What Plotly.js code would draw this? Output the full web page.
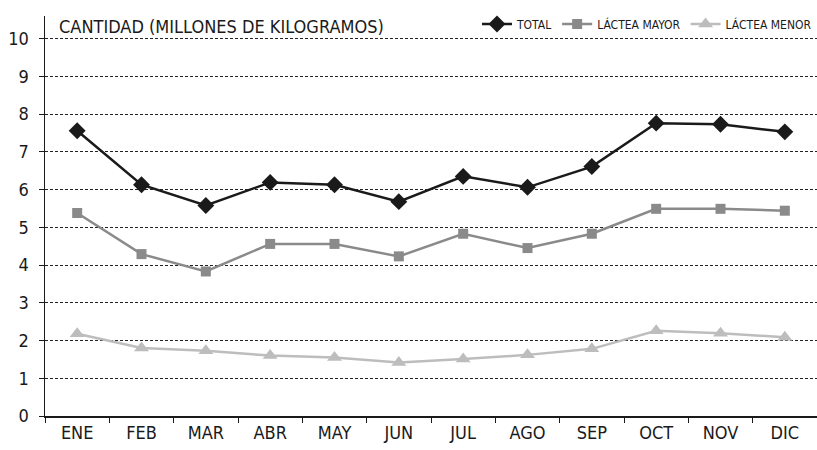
<!DOCTYPE html>
<html>
<head>
<meta charset="utf-8">
<script src="https://cdn.plot.ly/plotly-3.0.1.min.js"></script>
<style>html,body{margin:0;padding:0;background:#fff;}#chart{width:817px;height:450px;}</style>
</head>
<body>
<div id="chart"></div>
<script>
const months = ["ENE","FEB","MAR","ABR","MAY","JUN","JUL","AGO","SEP","OCT","NOV","DIC"];
const total = [7.56, 6.13, 5.58, 6.19, 6.13, 5.68, 6.35, 6.06, 6.61, 7.76, 7.73, 7.53];
const lacteaMayor = [5.38, 4.29, 3.83, 4.56, 4.56, 4.23, 4.83, 4.45, 4.83, 5.49, 5.49, 5.44];
const lacteaMenor = [2.18, 1.80, 1.73, 1.60, 1.55, 1.42, 1.51, 1.62, 1.78, 2.26, 2.19, 2.09];
const yTicks = [0,1,2,3,4,5,6,7,8,9,10];

const FONT = '"Liberation Sans Narrow", "DejaVu Sans Condensed", "Arial Narrow", sans-serif';

const traces = [
  {x: months, y: total, name: "TOTAL", type: "scatter", mode: "lines+markers",
   line: {color: "#1a1a1a", width: 2.5}, marker: {symbol: "diamond", size: 13, color: "#1a1a1a"}},
  {x: months, y: lacteaMayor, name: "LÁCTEA MAYOR", type: "scatter", mode: "lines+markers",
   line: {color: "#8a8a8a", width: 2.5}, marker: {symbol: "square", size: 10, color: "#8a8a8a"}},
  {x: months, y: lacteaMenor, name: "LÁCTEA MENOR", type: "scatter", mode: "lines+markers",
   line: {color: "#bdbdbd", width: 2.5}, marker: {symbol: "triangle-up", size: 13, color: "#bdbdbd"}}
];

const layout = {
  width: 817, height: 450,
  margin: {l: 45, r: 0, t: 16, b: 34},
  paper_bgcolor: "#fff", plot_bgcolor: "#fff",
  font: {family: FONT, color: "#1a1a1a"},
  showlegend: true,
  legend: {orientation: "h", x: 1, xanchor: "right", y: 0.98, yanchor: "middle",
           font: {family: FONT, size: 12, color: "#1a1a1a"}, bgcolor: "rgba(0,0,0,0)",
           itemwidth: 30, tracegroupgap: 0},
  xaxis: {type: "category", range: [-0.5, 11.5], tickson: "boundaries", ticks: "outside",
          ticklen: 5, tickcolor: "#1a1a1a", showline: true, linecolor: "#1a1a1a", linewidth: 1.5,
          showgrid: false, tickfont: {family: FONT, size: 18, color: "#1a1a1a"}, fixedrange: true},
  yaxis: {range: [0, 10.6], tickvals: yTicks, ticks: "outside", ticklen: 5, tickcolor: "#1a1a1a",
          showline: true, linecolor: "#1a1a1a", linewidth: 1.5, showgrid: true, gridcolor: "#222",
          gridwidth: 1, griddash: "3px,2px", zeroline: false, ticklabelstandoff: 6,
          tickfont: {family: FONT, size: 18, color: "#1a1a1a"}, fixedrange: true},
  annotations: [{text: "CANTIDAD (MILLONES DE KILOGRAMOS)", xref: "paper", yref: "paper",
                 x: 0.0155, y: 0.9725, xanchor: "left", yanchor: "middle", showarrow: false,
                 font: {family: FONT, size: 18, color: "#1a1a1a"}}]
};

Plotly.newPlot("chart", traces, layout, {displayModeBar: false, staticPlot: true});
</script>
</body>
</html>
